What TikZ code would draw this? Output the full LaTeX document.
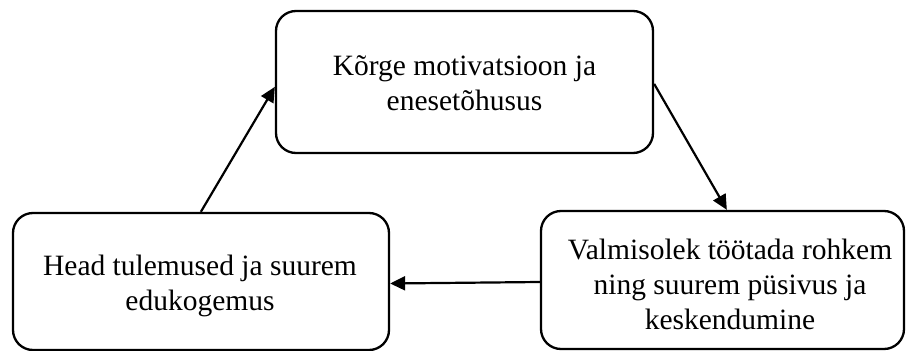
\documentclass[tikz,border=0pt]{standalone}
\usepackage{fontspec}
\setmainfont{Liberation Serif}
\usetikzlibrary{arrows.meta}
\tikzset{
  stage/.style={draw=black, line width=2.3pt, rounded corners=20pt, inner sep=0pt},
  caption/.style={align=center, inner sep=0pt, anchor=base,
    font=\fontsize{29.5pt}{35pt}\selectfont},
  flow/.style={line width=2.2pt, -{Triangle[length=15pt,width=14pt]}}
}
\begin{document}
\begin{tikzpicture}[x=1pt,y=-1pt]
  \useasboundingbox (0,0) rectangle (906,351);
  % the three stages of the cycle
  \node[stage, minimum width=377pt, minimum height=142pt] (top) at (464.5,82) {};
  \node[stage, minimum width=376pt, minimum height=137pt] (left) at (201,281.5) {};
  \node[stage, minimum width=363pt, minimum height=138pt] (right) at (722.5,280) {};
  % their texts (anchored on the baseline of the last line)
  \node[caption] (toptext) at (464.5,110) {Kõrge motivatsioon ja\\enesetõhusus};
  \node[caption] (lefttext) at (200,310) {Head tulemused ja suurem\\edukogemus};
  \node[caption] (righttext) at (730,329) {Valmisolek töötada rohkem\\ning suurem püsivus ja\\keskendumine};
  % arrows around the cycle
  \draw[flow] ([yshift=-74pt]top.north east) -- ([xshift=187pt]right.north west);
  \draw[flow] ([yshift=-2pt]right.west) -- ([yshift=-2pt]left.east);
  \draw[flow] ([xshift=189pt]left.north west) -- ([yshift=-77pt]top.north west);
\end{tikzpicture}
\end{document}
